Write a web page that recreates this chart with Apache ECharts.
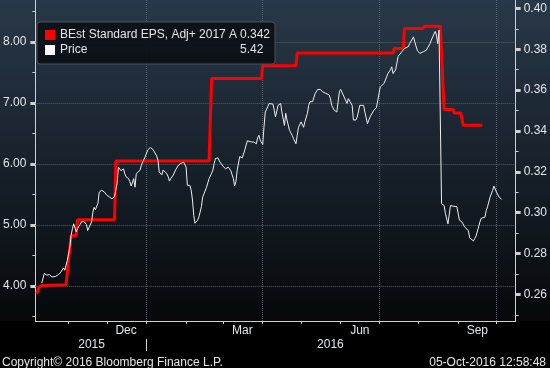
<!DOCTYPE html>
<html><head><meta charset="utf-8">
<script src="https://cdn.jsdelivr.net/npm/echarts@6/dist/echarts.min.js"></script>
<style>html,body{margin:0;padding:0;background:#000;}#c{width:550px;height:368px;}</style>
</head><body><div id="c"></div>
<script>
const seriesNames = ['BEst Standard EPS, Adj+ 2017 A', 'Price'];
const legendValues = ['0.342', '5.42'];

const epsDates = ['2015-10-07','2015-10-09','2015-10-11','2015-10-30','2015-11-03','2015-11-07','2015-11-08','2015-12-07','2015-12-08','2016-02-19','2016-02-21','2016-03-31','2016-04-01','2016-04-27','2016-04-28','2016-07-12','2016-07-13','2016-07-20','2016-07-21','2016-08-04','2016-08-06','2016-08-18','2016-08-21','2016-08-28','2016-08-29','2016-09-03','2016-09-05','2016-09-20'];
const epsValues = [0.2604,0.2635,0.2644,0.2647,0.2889,0.2889,0.2966,0.2966,0.3253,0.3253,0.3657,0.3657,0.3719,0.3719,0.3782,0.3782,0.3804,0.3804,0.3902,0.3902,0.3913,0.3913,0.3505,0.3505,0.3488,0.3488,0.3428,0.3428];

const priceDates = ['2015-10-11','2015-10-13','2015-10-15','2015-10-17','2015-10-19','2015-10-20','2015-10-22','2015-10-24','2015-10-26','2015-10-28','2015-10-29','2015-10-30','2015-10-31','2015-11-02','2015-11-03','2015-11-04','2015-11-05','2015-11-06','2015-11-07','2015-11-08','2015-11-10','2015-11-11','2015-11-12','2015-11-13','2015-11-15','2015-11-16','2015-11-17','2015-11-19','2015-11-20','2015-11-21','2015-11-22','2015-11-24','2015-11-25','2015-11-26','2015-11-27','2015-11-28','2015-11-29','2015-12-01','2015-12-02','2015-12-03','2015-12-05','2015-12-06','2015-12-07','2015-12-09','2015-12-10','2015-12-11','2015-12-12','2015-12-14','2015-12-15','2015-12-16','2015-12-18','2015-12-19','2015-12-20','2015-12-22','2015-12-23','2015-12-24','2015-12-25','2015-12-27','2015-12-28','2015-12-29','2015-12-31','2016-01-01','2016-01-02','2016-01-04','2016-01-05','2016-01-06','2016-01-07','2016-01-09','2016-01-10','2016-01-11','2016-01-13','2016-01-14','2016-01-15','2016-01-17','2016-01-18','2016-01-19','2016-01-20','2016-01-22','2016-01-23','2016-01-24','2016-01-26','2016-01-27','2016-01-28','2016-01-30','2016-01-31','2016-02-01','2016-02-02','2016-02-04','2016-02-05','2016-02-06','2016-02-07','2016-02-08','2016-02-10','2016-02-11','2016-02-12','2016-02-13','2016-02-14','2016-02-15','2016-02-17','2016-02-18','2016-02-19','2016-02-21','2016-02-22','2016-02-23','2016-02-24','2016-02-26','2016-02-27','2016-02-28','2016-03-01','2016-03-02','2016-03-03','2016-03-05','2016-03-06','2016-03-07','2016-03-09','2016-03-10','2016-03-11','2016-03-12','2016-03-14','2016-03-15','2016-03-16','2016-03-18','2016-03-19','2016-03-20','2016-03-21','2016-03-23','2016-03-24','2016-03-25','2016-03-27','2016-03-28','2016-03-29','2016-03-30','2016-04-01','2016-04-02','2016-04-03','2016-04-05','2016-04-06','2016-04-07','2016-04-09','2016-04-10','2016-04-11','2016-04-13','2016-04-14','2016-04-15','2016-04-16','2016-04-18','2016-04-19','2016-04-20','2016-04-22','2016-04-23','2016-04-24','2016-04-25','2016-04-27','2016-04-28','2016-04-29','2016-05-01','2016-05-02','2016-05-03','2016-05-04','2016-05-06','2016-05-07','2016-05-08','2016-05-10','2016-05-11','2016-05-12','2016-05-14','2016-05-15','2016-05-16','2016-05-18','2016-05-19','2016-05-20','2016-05-21','2016-05-23','2016-05-24','2016-05-25','2016-05-27','2016-05-28','2016-05-29','2016-05-31','2016-06-01','2016-06-03','2016-06-06','2016-06-07','2016-06-10','2016-06-11','2016-06-13','2016-06-14','2016-06-16','2016-06-19','2016-06-20','2016-06-22','2016-06-23','2016-06-24','2016-06-27','2016-06-29','2016-07-02','2016-07-05','2016-07-06','2016-07-08','2016-07-10','2016-07-11','2016-07-12','2016-07-14','2016-07-16','2016-07-19','2016-07-21','2016-07-24','2016-07-25','2016-07-28','2016-07-29','2016-07-31','2016-08-02','2016-08-05','2016-08-06','2016-08-07','2016-08-10','2016-08-11','2016-08-12','2016-08-14','2016-08-15','2016-08-16','2016-08-17','2016-08-18','2016-08-19','2016-08-21','2016-08-22','2016-08-24','2016-08-25','2016-08-26','2016-08-27','2016-08-28','2016-08-29','2016-08-31','2016-09-01','2016-09-02','2016-09-04','2016-09-05','2016-09-06','2016-09-07','2016-09-09','2016-09-10','2016-09-11','2016-09-13','2016-09-14','2016-09-15','2016-09-17','2016-09-18','2016-09-19','2016-09-20','2016-09-22','2016-09-23','2016-09-24','2016-09-26','2016-09-27','2016-09-28','2016-09-29','2016-10-01','2016-10-02','2016-10-03','2016-10-04','2016-10-05'];
const priceValues = [4.05,4.21,4.18,4.19,4.15,4.18,4.16,4.19,4.23,4.30,4.26,4.25,4.42,4.64,4.83,4.94,5.02,5.03,4.89,4.94,5.01,5.05,5.07,5.06,5.01,4.91,4.96,5.05,5.21,5.29,5.25,5.36,5.54,5.52,5.57,5.60,5.54,5.49,5.51,5.46,5.43,5.46,5.47,5.68,5.95,5.95,5.89,5.92,5.84,5.79,5.76,5.71,5.64,5.76,5.62,5.84,5.83,5.90,5.98,6.03,6.12,6.13,6.23,6.27,6.25,6.24,6.21,6.13,6.06,5.87,5.82,5.90,5.92,5.84,5.79,5.72,5.76,5.82,5.85,5.91,5.98,6.01,6.01,6.03,6.00,5.95,5.65,5.65,5.57,5.41,5.16,5.03,5.08,5.13,5.16,5.30,5.46,5.51,5.62,5.69,5.76,5.85,5.90,6.01,6.09,6.10,6.05,6.06,5.96,5.98,5.92,5.95,5.94,5.89,5.76,5.64,5.71,5.90,6.12,6.13,6.10,6.23,6.31,6.38,6.36,6.36,6.35,6.36,6.33,6.43,6.47,6.39,6.32,6.61,6.85,6.94,6.99,7.02,6.98,6.88,6.77,6.96,6.98,6.99,6.85,6.63,6.83,6.72,6.55,6.51,6.47,6.42,6.33,6.47,6.60,6.69,6.72,6.60,6.69,6.83,6.96,7.02,7.02,7.04,7.15,7.22,7.25,7.22,7.18,7.21,7.16,7.18,7.13,7.07,6.96,6.88,6.91,6.85,7.18,7.22,7.13,6.99,7.07,6.96,6.72,6.72,6.77,6.96,6.96,6.85,6.66,6.69,6.77,6.88,6.92,7.26,7.32,7.35,7.48,7.54,7.59,7.48,7.54,7.76,7.84,7.89,7.92,7.97,8.08,8.00,7.86,7.81,7.84,7.81,7.86,7.97,8.03,8.06,8.17,8.11,7.97,8.19,8.20,5.35,5.32,5.19,5.02,5.00,5.32,5.30,5.31,5.29,5.30,5.27,5.08,5.05,5.07,4.97,4.96,4.91,4.79,4.78,4.74,4.78,4.82,4.97,5.05,5.11,5.13,5.13,5.24,5.30,5.46,5.49,5.57,5.64,5.54,5.52,5.46,5.49,5.42];

const leftTickLabels = [4, 5, 6, 7, 8];
const leftMinorTicks = [3.5, 4.5, 5.5, 6.5, 7.5, 8.5];
const rightTickLabels = [0.26, 0.28, 0.30, 0.32, 0.34, 0.36, 0.38, 0.40];
const rightMinorTicks = [0.25, 0.27, 0.29, 0.31, 0.33, 0.35, 0.37, 0.39];
const monthTickDates = ['2015-11-01','2015-12-01','2016-01-01','2016-02-01','2016-03-01','2016-04-01','2016-05-01','2016-06-01','2016-07-01','2016-08-01','2016-09-01','2016-10-01'];
const quarterDates = ['2016-01-01','2016-04-01','2016-07-01','2016-10-01'];
const monthLabelDates = ['2015-12-16','2016-03-16','2016-06-16','2016-09-16'];
const monthLabels = ['Dec','Mar','Jun','Sep'];
const yearLabelDates = ['2015-11-19','2016-05-24'];
const yearLabels = ['2015','2016'];
const yearBreakDates = ['2016-01-01'];
const xRange = ['2015-10-06','2016-10-16'];
const leftRange = [3.43, 8.684];
const rightRange = [0.2470, 0.4041];
const footerLeft = 'Copyright\u00A9 2016 Bloomberg Finance L.P.';
const footerRight = '05-Oct-2016 12:58:48';

function toTs(s){ const p = s.split('-'); return Date.UTC(+p[0], +p[1]-1, +p[2]); }
function lookup(dates, labels){ const ts = dates.map(toTs); return v => { for (let i=0;i<ts.length;i++){ if (Math.abs(ts[i]-v) < 43200000) return labels[i]; } return ''; }; }

const axisColor = '#d0d0d0';
const textColor = '#e2e6ec';
const font = '"Liberation Sans", Arial, sans-serif';
const gridColor = '#56616c';
const xMin = toTs(xRange[0]), xMax = toTs(xRange[1]);

const chart = echarts.init(document.getElementById('c'), null, {renderer:'canvas'});
const lblStyle = {color:textColor, fontSize:12, fontFamily:font};

const option = {
  animation: false,
  backgroundColor: {type:'linear', x:0, y:0, x2:0, y2:1, colorStops:[
    {offset:0, color:'#293848'}, {offset:0.45, color:'#17212b'}, {offset:0.872, color:'#06080a'}, {offset:0.873, color:'#000000'}, {offset:1, color:'#000000'}]},
  grid: {left:33, right:34, top:0, bottom:47},
  legend: {
    left:37, top:22, orient:'vertical', icon:'rect', itemWidth:10, itemHeight:10, itemGap:3,
    padding:[7,5,8,8], backgroundColor:'rgba(12,16,21,0.92)', borderColor:'#4b535c', borderWidth:1, borderRadius:3,
    selectedMode:false, data: seriesNames,
    textStyle: {color:textColor, fontSize:12, fontFamily:font, rich:{
      n:{width:180, color:textColor, fontSize:12, fontFamily:font},
      v:{color:textColor, fontSize:12, fontFamily:font}}},
    formatter: name => '{n|' + name + '}{v|' + legendValues[seriesNames.indexOf(name)] + '}'
  },
  xAxis: [
    {type:'value', min:xMin, max:xMax, gridIndex:0, scale:true,
      axisLine:{show:true, lineStyle:{color:axisColor, width:1}},
      axisTick:{show:true, customValues: monthTickDates.map(toTs), length:3, lineStyle:{color:axisColor}},
      axisLabel:{show:true, customValues: monthLabelDates.map(toTs), formatter: lookup(monthLabelDates, monthLabels), margin:4, hideOverlap:false, ...lblStyle},
      splitLine:{show:false}},
    {type:'value', min:xMin, max:xMax, gridIndex:0, scale:true, position:'bottom', offset:18,
      axisLine:{show:false},
      axisTick:{show:true, customValues: yearBreakDates.map(toTs), length:12, lineStyle:{color:axisColor}},
      axisLabel:{show:true, customValues: yearLabelDates.map(toTs), formatter: lookup(yearLabelDates, yearLabels), margin:0, hideOverlap:false, ...lblStyle},
      splitLine:{show:false}}
  ],
  yAxis: [
    {type:'value', position:'left', min:leftRange[0], max:leftRange[1],
      axisLine:{show:true, lineStyle:{color:axisColor}},
      axisTick:{show:true, customValues:leftTickLabels, length:5, lineStyle:{color:axisColor, width:3}},
      axisLabel:{show:true, customValues:leftTickLabels, formatter: v => v.toFixed(2), margin:9, ...lblStyle},
      splitLine:{show:false}},
    {type:'value', position:'right', min:rightRange[0], max:rightRange[1],
      axisLine:{show:true, lineStyle:{color:axisColor}},
      axisTick:{show:true, customValues:rightTickLabels, length:5, lineStyle:{color:axisColor, width:3}},
      axisLabel:{show:true, customValues:rightTickLabels, formatter: v => v.toFixed(2), margin:8, ...lblStyle},
      splitLine:{show:false}},
    {type:'value', position:'left', min:leftRange[0], max:leftRange[1],
      axisLine:{show:false}, axisLabel:{show:false}, splitLine:{show:false},
      axisTick:{show:true, customValues:leftMinorTicks, length:3, lineStyle:{color:axisColor, width:1}}},
    {type:'value', position:'right', min:rightRange[0], max:rightRange[1],
      axisLine:{show:false}, axisLabel:{show:false}, splitLine:{show:false},
      axisTick:{show:true, customValues:rightMinorTicks, length:3, lineStyle:{color:axisColor, width:1}}}
  ],
  series: [
    {name:seriesNames[0], type:'line', xAxisIndex:0, yAxisIndex:1, symbol:'none', z:3,
      data: epsDates.map((d,i)=>[toTs(d), epsValues[i]]),
      lineStyle:{color:'#ff0000', width:3}, itemStyle:{color:'#ff0000'}},
    {name:seriesNames[1], type:'line', xAxisIndex:0, yAxisIndex:0, symbol:'none', z:4,
      data: priceDates.map((d,i)=>[toTs(d), priceValues[i]]),
      lineStyle:{color:'#eeeeee', width:1}, itemStyle:{color:'#ffffff'},
      markLine:{silent:true, symbol:'none', z:1, label:{show:false}, animation:false,
        lineStyle:{color:gridColor, type:'dotted', width:1},
        data: leftTickLabels.map(v=>({yAxis:v})).concat(quarterDates.map(d=>({xAxis:toTs(d)})))}}
  ],
  graphic: [
    {type:'text', left:2, top:357, style:{text:footerLeft, fill:'#e6e6e6', font:'12px ' + font}},
    {type:'text', right:4, top:357, style:{text:footerRight, fill:'#e6e6e6', font:'12px ' + font}}
  ]
};
chart.setOption(option);
</script>
</body></html>
